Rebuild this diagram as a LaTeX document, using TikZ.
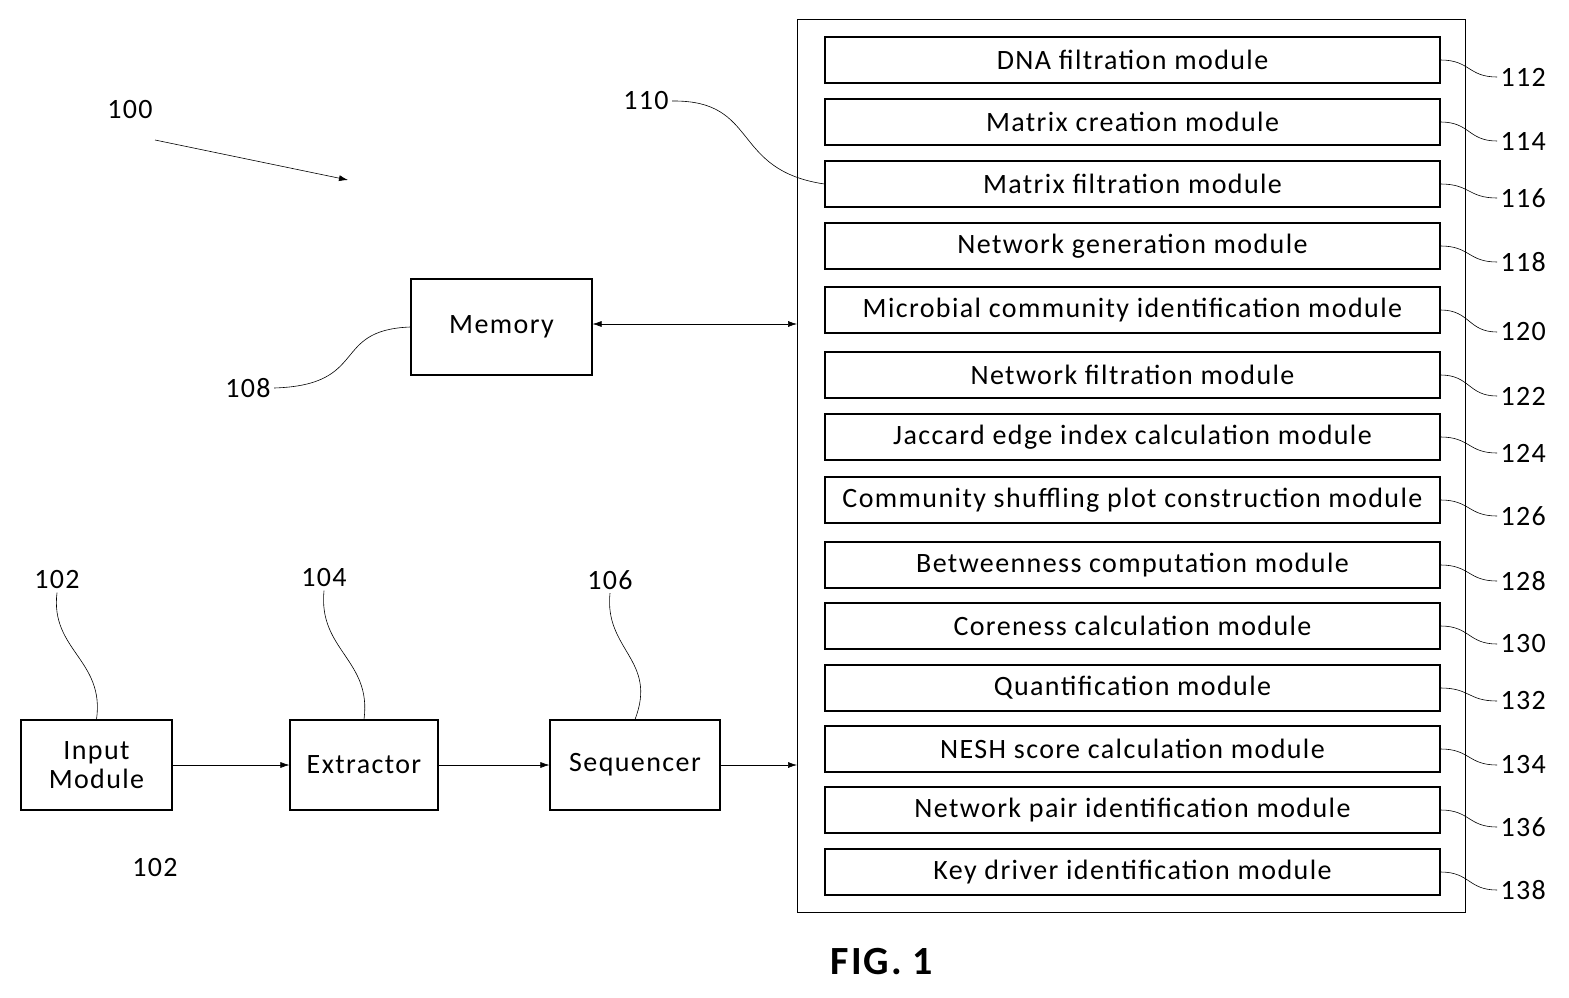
\documentclass[tikz,border=0pt]{standalone}
\usepackage{fontspec}
\setmainfont[LetterSpace=5]{Carlito}
\usetikzlibrary{arrows.meta}
\begin{document}
\begin{tikzpicture}[x=1pt,y=-1pt,
  box/.style={draw,line width=1.2pt,inner sep=0pt,font=\fontsize{28}{31}\selectfont},
  mod/.style={draw,line width=1.2pt,minimum width=615pt,minimum height=46pt,inner sep=0pt,font=\fontsize{28}{30}\selectfont},
  lbl/.style={font=\fontsize{28}{30}\selectfont},
  lead/.style={line width=0.6pt},
  arr/.style={line width=0.6pt,-{Latex[length=9pt,width=6pt]}}]
\useasboundingbox (0,0) rectangle (1569,998);
\node[draw,line width=1pt,minimum width=668pt,minimum height=892pt,inner sep=0pt] (cont) at (1131,466) {};
\foreach \n/\y/\t/\l/\ly in {
 a/60/DNA filtration module/112/77,
 b/122/Matrix creation module/114/141,
 c/184/Matrix filtration module/116/198,
 d/246/Network generation module/118/262,
 e/310/Microbial community identification module/120/332,
 f/375/Network filtration module/122/396,
 g/437/Jaccard edge index calculation module/124/453,
 h/500/Community shuffling plot construction module/126/516,
 i/565/Betweenness computation module/128/581,
 j/626/Coreness calculation module/130/644,
 k/688/Quantification module/132/701,
 l/749/NESH score calculation module/134/765,
 m/810/Network pair identification module/136/827,
 n/872/Key driver identification module/138/890}{
  \node[mod] (\n) at (1132.5,\y) {\t};
  \node[lbl,anchor=west] (L\n) at (1497,\ly) {\l};
  \draw[lead] (\n.east) .. controls (1470,\y) and (1468,\ly) .. (L\n.west);
}
\node[box,minimum width=181pt,minimum height=96pt] (mem) at (501.5,327) {Memory};
\node[box,minimum width=151pt,minimum height=90pt,align=center] (inp) at (96.5,765) {Input\\[-2pt]Module};
\node[box,minimum width=148pt,minimum height=90pt] (ext) at (364,765) {Extractor};
\node[box,minimum width=170pt,minimum height=90pt] (seq) at (635,765) {Sequencer};
\coordinate (cm) at (797,324);
\coordinate (cs) at (797,765);
\draw[line width=0.6pt,{Latex[length=9pt,width=6pt]}-{Latex[length=9pt,width=6pt]}] (mem.east |- cm) -- (cm);
\draw[arr] (inp) -- (ext);
\draw[arr] (ext) -- (seq);
\draw[arr] (seq.east |- cs) -- (cs);
\node[lbl] (n100) at (130,110) {100};
\coordinate (p100) at (348,180);
\draw[arr] (155,140) -- (p100);
\node[lbl] (n110) at (646,101) {110};
\draw[lead] (n110.east) .. controls (760,100) and (730,170) .. (c.west);
\node[lbl] (n108) at (248,388) {108};
\draw[lead] (n108.east) .. controls (370,385) and (330,330) .. (mem.west);
\node[lbl] (n102) at (57,580) {102};
\draw[lead] (n102.south) .. controls (50,650) and (105,660) .. (inp.north);
\node[lbl] (n104) at (324,578) {104};
\draw[lead] (n104.south) .. controls (318,650) and (372,660) .. (ext.north);
\node[lbl] (n106) at (610,580) {106};
\draw[lead] (n106.south) .. controls (604,650) and (658,660) .. (seq.north);
\node[lbl] (n102b) at (155,868) {102};
\node[font=\fontsize{40}{44}\selectfont\bfseries] (fig) at (882,962) {FIG. 1};
\end{tikzpicture}
\end{document}
